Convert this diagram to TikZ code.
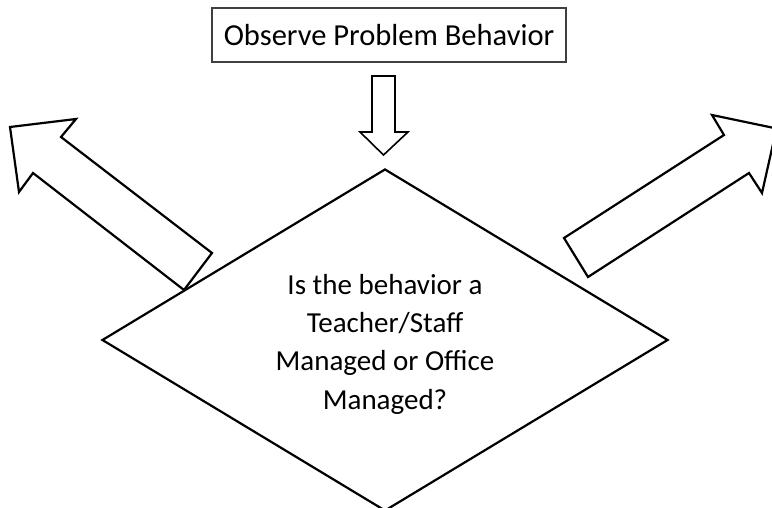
\documentclass[tikz,border=0pt]{standalone}
\usepackage{fontspec}
\setmainfont{Carlito}
\usetikzlibrary{shapes.geometric,calc}
\begin{document}
\begin{tikzpicture}[x=1pt,y=-1pt,
  txt/.style={font=\fontsize{29}{38.3}\selectfont,align=center,inner sep=0pt},
  boxstyle/.style={draw=black!75,line width=1.2pt,minimum width=354pt,minimum height=54pt,inner sep=0pt,font=\fontsize{30.5}{36}\selectfont},
  decision/.style={diamond,draw=black,line width=2.2pt,minimum width=566pt,minimum height=342pt,inner sep=0pt},
  bigarrow/.style={draw=black,line width=2.2pt,line join=miter,fill=white},
  smallarrow/.style={draw=black,line width=1.6pt,line join=miter,fill=white}]
\clip (0,0) rectangle (772,508);
% top box
\node[boxstyle] (obs) at (389,35) {Observe Problem Behavior};
% decision diamond
\node[decision] (dec) at (385,340) {};
\node[txt] (q) at ([yshift=-4pt]dec.center) {Is the behavior a\\Teacher/Staff\\Managed or Office\\Managed?};
% down arrow between box and diamond
\coordinate (dTip) at (383.5,155);
\draw[smallarrow] (372,76) -- (395,76) -- (395,132) -- (408,132) -- (dTip) -- (360,132) -- (372,132) -- cycle;
% left block arrow
\coordinate (lTip) at (10,127);
\draw[bigarrow] (184,290) -- (33,173) -- (19,192) -- (lTip) -- (76,119) -- (61,137) -- (212,253) -- cycle;
% right block arrow
\coordinate (rTip) at (776.5,128.5);
\draw[bigarrow] (564,238) -- (724,135) -- (712,115) -- (rTip) -- (762,193) -- (749,173) -- (588,277) -- cycle;
\end{tikzpicture}
\end{document}
